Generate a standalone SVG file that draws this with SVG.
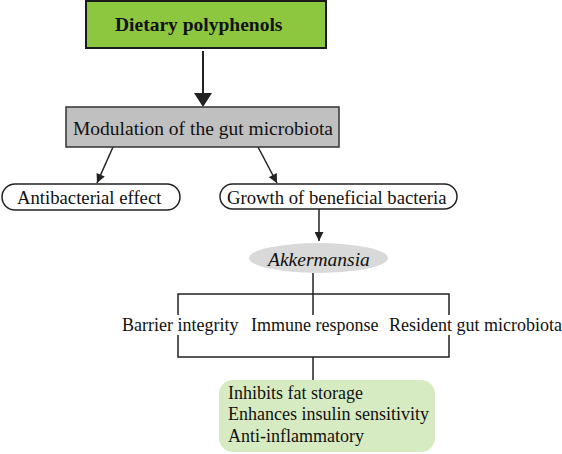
<svg xmlns="http://www.w3.org/2000/svg" width="562" height="454" viewBox="0 0 562 454">
<defs>
<style>
.ln{stroke:#222;stroke-width:1.5;fill:none;}
.pill{fill:#fff;stroke:#222;stroke-width:1.5;}
</style>
<marker id="ahs" viewBox="0 0 10 10" refX="10" refY="5" markerWidth="12" markerHeight="9" markerUnits="userSpaceOnUse" orient="auto">
<path d="M0,0 L10,5 L0,10 z" fill="#222"/>
</marker>
</defs>
<rect width="562" height="454" fill="#fff"/>
<g id="connectors">
<line class="ln" x1="203" y1="51" x2="203" y2="94" style="stroke-width:2"/>
<polygon points="194,93 212,93 203,107" fill="#222"/>
<line class="ln" x1="113" y1="147" x2="97" y2="183" marker-end="url(#ahs)"/>
<line class="ln" x1="258" y1="147" x2="277" y2="183" marker-end="url(#ahs)"/>
<line class="ln" x1="319" y1="209" x2="319" y2="241" marker-end="url(#ahs)"/>
<line class="ln" x1="313" y1="273" x2="313" y2="315"/>
<polyline class="ln" points="178,315 178,294 449,294 449,315"/>
<polyline class="ln" points="178,335 178,357 449,357 449,335"/>
<line class="ln" x1="313" y1="357" x2="313" y2="380"/>
</g>
<g font-family="'Liberation Serif', Tinos, 'Times New Roman', Times, serif" fill="#111">
<g id="dietary">
<rect x="86" y="1" width="240" height="47" fill="#8dc63f" stroke="#1a1a1a" stroke-width="2"/>
<text x="115" y="31" font-size="19.5" font-weight="bold">Dietary polyphenols</text>
</g>
<g id="modulation">
<rect x="66" y="107" width="273" height="40" fill="#c0c0c0" stroke="#333" stroke-width="1.5"/>
<text x="73" y="135" font-size="19.5">Modulation of the gut microbiota</text>
</g>
<g id="antibacterial">
<rect class="pill" x="2" y="184" width="178" height="26" rx="13"/>
<text x="17" y="204" font-size="18.7">Antibacterial effect</text>
</g>
<g id="growth">
<rect class="pill" x="220" y="184" width="237" height="25" rx="12.5"/>
<text x="227" y="204" font-size="18.7">Growth of beneficial bacteria</text>
</g>
<g id="akkermansia">
<ellipse cx="318.5" cy="258" rx="69.5" ry="15" fill="#d9d9d9"/>
<text x="268" y="266" font-size="19.5" font-style="italic">Akkermansia</text>
</g>
<g id="barrier"><text x="122" y="331" font-size="18">Barrier integrity</text></g>
<g id="immune"><text x="251" y="331" font-size="18">Immune response</text></g>
<g id="resident"><text x="389" y="331" font-size="18">Resident gut microbiota</text></g>
<g id="effects">
<rect x="219" y="380" width="216" height="72" rx="14" fill="#d7ebc2"/>
<text x="228" y="399" font-size="18">Inhibits fat storage</text>
<text x="228" y="420" font-size="18">Enhances insulin sensitivity</text>
<text x="228" y="442" font-size="18">Anti-inflammatory</text>
</g>
</g>
</svg>
